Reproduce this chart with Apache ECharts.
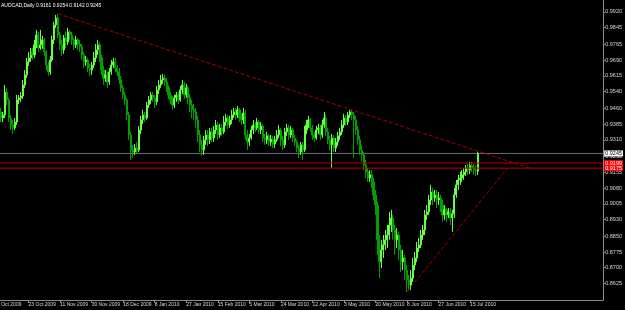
<!DOCTYPE html>
<html><head><meta charset="utf-8">
<script src="https://cdn.jsdelivr.net/npm/echarts@6/dist/echarts.min.js"></script>
<style>html,body{margin:0;padding:0;background:#000}#c{width:625px;height:310px}</style>
</head><body><div id="c"></div>
<script>
const symbolName = 'AUDCAD,Daily';
const lastQuote = ['0.9161', '0.9254', '0.9142', '0.9245'];
const dateLabels = ['5 Oct 2009','23 Oct 2009','11 Nov 2009','30 Nov 2009','18 Dec 2009','8 Jan 2010','27 Jan 2010','15 Feb 2010','5 Mar 2010','24 Mar 2010','12 Apr 2010','3 May 2010','20 May 2010','8 Jun 2010','27 Jun 2010','15 Jul 2010'];
const barsPerLabel = 16;
const slotCount = 308;
const firstVisibleSlot = 2;
const priceTicks = [0.9920,0.9845,0.9765,0.9690,0.9615,0.9540,0.9460,0.9385,0.9310,0.9230,0.9155,0.9080,0.9005,0.8930,0.8850,0.8775,0.8700,0.8625,0.8545];
const priceMin = 0.8546, priceMax = 0.9977;

const open = [
.9476,.9453,.9443,.9414,.9429,.9538,.9500,.9414,.9381,.9367,
.9395,.9500,.9510,.9519,.9572,.9620,.9682,.9701,.9729,.9715,
.9763,.9810,.9748,.9763,.9787,.9729,.9667,.9634,.9691,.9787,
.9858,.9891,.9810,.9763,.9739,.9796,.9777,.9825,.9810,.9787,
.9763,.9787,.9767,.9753,.9715,.9682,.9691,.9653,.9643,.9667,
.9701,.9739,.9763,.9701,.9643,.9605,.9620,.9586,.9634,.9667,
.9682,.9653,.9634,.9596,.9558,.9524,.9500,.9429,.9333,.9262,
.9252,.9271,.9262,.9357,.9405,.9429,.9414,.9476,.9500,.9524,
.9510,.9491,.9548,.9572,.9596,.9605,.9586,.9558,.9524,.9500,
.9476,.9510,.9524,.9500,.9548,.9572,.9524,.9558,.9510,.9476,
.9453,.9443,.9405,.9333,.9286,.9262,.9310,.9333,.9310,.9348,
.9319,.9357,.9381,.9333,.9367,.9348,.9395,.9414,.9381,.9405,
.9429,.9443,.9429,.9453,.9414,.9405,.9438,.9333,.9300,.9319,
.9357,.9381,.9367,.9395,.9357,.9376,.9319,.9310,.9329,.9300,
.9314,.9290,.9310,.9333,.9357,.9310,.9286,.9348,.9367,.9333,
.9357,.9319,.9300,.9271,.9252,.9286,.9262,.9357,.9381,.9405,
.9367,.9333,.9319,.9357,.9367,.9333,.9381,.9414,.9348,.9310,
.9286,.9319,.9271,.9300,.9329,.9348,.9381,.9414,.9395,.9429,
.9443,.9429,.9405,.9357,.9310,.9262,.9238,.9190,.9157,.9128,
.9143,.9109,.9047,.8999,.8833,.8728,.8785,.8809,.8833,.8856,
.8904,.8937,.8880,.8833,.8856,.8785,.8728,.8747,.8689,.8642,
.8618,.8651,.8713,.8747,.8794,.8809,.8856,.8880,.8952,.8966,
.9023,.9061,.9033,.9047,.9023,.9033,.8999,.8952,.8976,.8952,
.8966,.8937,.8957,.9047,.9095,.9119,.9128,.9143,.9157,.9176,
.9166,.9186,.9176,.9166,.9161];

const close = [
.9453,.9443,.9414,.9429,.9538,.9500,.9414,.9381,.9367,.9395,
.9500,.9510,.9519,.9572,.9620,.9682,.9701,.9729,.9715,.9763,
.9810,.9748,.9763,.9787,.9729,.9667,.9634,.9691,.9787,.9858,
.9891,.9810,.9763,.9739,.9796,.9777,.9825,.9810,.9787,.9763,
.9787,.9767,.9753,.9715,.9682,.9691,.9653,.9643,.9667,.9701,
.9739,.9763,.9701,.9643,.9605,.9620,.9586,.9634,.9667,.9682,
.9653,.9634,.9596,.9558,.9524,.9500,.9429,.9333,.9262,.9252,
.9271,.9262,.9357,.9405,.9429,.9414,.9476,.9500,.9524,.9510,
.9491,.9548,.9572,.9596,.9605,.9586,.9558,.9524,.9500,.9476,
.9510,.9524,.9500,.9548,.9572,.9524,.9558,.9510,.9476,.9453,
.9443,.9405,.9333,.9286,.9262,.9310,.9333,.9310,.9348,.9319,
.9357,.9381,.9333,.9367,.9348,.9395,.9414,.9381,.9405,.9429,
.9443,.9429,.9453,.9414,.9405,.9438,.9333,.9300,.9319,.9357,
.9381,.9367,.9395,.9357,.9376,.9319,.9310,.9329,.9300,.9314,
.9290,.9310,.9333,.9357,.9310,.9286,.9348,.9367,.9333,.9357,
.9319,.9300,.9271,.9252,.9286,.9262,.9357,.9381,.9405,.9367,
.9333,.9319,.9357,.9367,.9333,.9381,.9414,.9348,.9310,.9286,
.9319,.9271,.9300,.9329,.9348,.9381,.9414,.9395,.9429,.9443,
.9429,.9405,.9357,.9310,.9262,.9238,.9190,.9157,.9128,.9143,
.9109,.9047,.8999,.8833,.8728,.8785,.8809,.8833,.8856,.8904,
.8937,.8880,.8833,.8856,.8785,.8728,.8747,.8689,.8642,.8618,
.8651,.8713,.8747,.8794,.8809,.8856,.8880,.8952,.8966,.9023,
.9061,.9033,.9047,.9023,.9033,.8999,.8952,.8976,.8952,.8966,
.8937,.8957,.9047,.9095,.9119,.9128,.9143,.9157,.9176,.9166,
.9186,.9176,.9166,.9161,.9245];

const high = [
.9500,.9476,.9462,.9443,.9572,.9558,.9510,.9429,.9405,.9414,
.9524,.9524,.9538,.9596,.9643,.9701,.9729,.9748,.9748,.9787,
.9834,.9825,.9834,.9806,.9796,.9739,.9682,.9710,.9806,.9872,
.9906,.9911,.9825,.9787,.9810,.9825,.9844,.9834,.9825,.9796,
.9806,.9796,.9787,.9767,.9729,.9710,.9701,.9672,.9682,.9729,
.9767,.9787,.9777,.9715,.9663,.9643,.9634,.9653,.9691,.9701,
.9701,.9667,.9653,.9615,.9572,.9538,.9510,.9443,.9348,.9286,
.9290,.9300,.9376,.9424,.9453,.9443,.9491,.9519,.9538,.9538,
.9524,.9567,.9596,.9620,.9624,.9620,.9605,.9572,.9538,.9519,
.9524,.9538,.9538,.9567,.9596,.9586,.9577,.9567,.9529,.9500,
.9481,.9462,.9424,.9357,.9310,.9329,.9357,.9357,.9367,.9367,
.9376,.9405,.9395,.9386,.9386,.9424,.9434,.9429,.9424,.9453,
.9462,.9462,.9472,.9462,.9434,.9462,.9453,.9357,.9338,.9376,
.9405,.9395,.9414,.9405,.9395,.9386,.9338,.9348,.9338,.9333,
.9329,.9329,.9357,.9381,.9367,.9329,.9367,.9386,.9381,.9376,
.9367,.9333,.9310,.9286,.9300,.9300,.9376,.9405,.9424,.9414,
.9381,.9348,.9376,.9386,.9381,.9405,.9443,.9429,.9367,.9329,
.9338,.9333,.9319,.9348,.9367,.9405,.9434,.9429,.9443,.9453,
.9453,.9443,.9424,.9376,.9329,.9286,.9252,.9214,.9176,.9166,
.9166,.9128,.9071,.9014,.8856,.8833,.8856,.8880,.8904,.8966,
.8976,.8952,.8904,.8890,.8871,.8809,.8785,.8761,.8713,.8666,
.8689,.8747,.8775,.8823,.8842,.8880,.8904,.8976,.8999,.9047,
.9095,.9081,.9071,.9071,.9061,.9047,.9023,.8999,.8985,.8985,
.8985,.8976,.9081,.9119,.9143,.9157,.9166,.9176,.9190,.9195,
.9205,.9205,.9195,.9190,.9254];

const low = [
.9429,.9414,.9395,.9395,.9414,.9476,.9395,.9357,.9338,.9357,
.9381,.9481,.9491,.9505,.9558,.9605,.9663,.9682,.9691,.9701,
.9748,.9729,.9739,.9744,.9710,.9643,.9615,.9620,.9682,.9767,
.9844,.9796,.9739,.9710,.9720,.9748,.9763,.9787,.9763,.9739,
.9748,.9739,.9729,.9691,.9653,.9663,.9634,.9615,.9620,.9653,
.9682,.9715,.9682,.9620,.9572,.9586,.9558,.9572,.9620,.9653,
.9634,.9615,.9577,.9538,.9505,.9476,.9405,.9310,.9214,.9224,
.9238,.9243,.9252,.9338,.9386,.9395,.9405,.9462,.9481,.9491,
.9462,.9476,.9529,.9558,.9577,.9567,.9538,.9505,.9481,.9453,
.9462,.9491,.9481,.9491,.9529,.9505,.9510,.9481,.9443,.9414,
.9405,.9367,.9300,.9252,.9233,.9238,.9286,.9281,.9290,.9300,
.9300,.9338,.9310,.9319,.9329,.9338,.9376,.9362,.9367,.9386,
.9414,.9405,.9414,.9395,.9381,.9386,.9310,.9262,.9281,.9310,
.9338,.9348,.9357,.9338,.9338,.9300,.9286,.9290,.9281,.9281,
.9271,.9271,.9300,.9319,.9281,.9262,.9271,.9329,.9310,.9319,
.9300,.9281,.9252,.9224,.9238,.9214,.9252,.9338,.9367,.9348,
.9310,.9300,.9310,.9338,.9310,.9319,.9367,.9329,.9290,.9262,
.9176,.9252,.9252,.9281,.9310,.9333,.9367,.9376,.9381,.9414,
.9405,.9224,.9333,.9286,.9238,.9205,.9166,.9128,.9109,.9109,
.9081,.9023,.8952,.8761,.8651,.8699,.8747,.8785,.8794,.8833,
.8871,.8833,.8761,.8794,.8737,.8680,.8689,.8642,.8585,.8594,
.8594,.8632,.8689,.8728,.8775,.8794,.8833,.8856,.8928,.8952,
.8999,.8999,.9014,.8985,.8999,.8966,.8918,.8928,.8918,.8937,
.8904,.8871,.8937,.9033,.9071,.9095,.9109,.9119,.9138,.9143,
.9147,.9157,.9143,.9138,.9142];

const bidPrice = 0.9245;
const levelLines = [0.9199, 0.9175];
const trendDown = [[31, 0.9911], [270, 0.9176]];
const trendUp = [[208, 0.8585], [259, 0.9176]];

const FONT = '"Liberation Sans",Arial,sans-serif';
const BULL = '#66ff44', BEAR = '#00a000';
const slots = Array.from({length: slotCount}, (_, i) => String(i));
const candles = close.map((c, i) => {
  const col = c >= open[i] ? BULL : BEAR;
  return {value: [open[i], c, low[i], high[i]],
    itemStyle: {color: col, color0: col, borderColor: col, borderColor0: col, borderColorDoji: col}};
});
const isLabel = (i) => i >= firstVisibleSlot && i % barsPerLabel === 0 && i / barsPerLabel < dateLabels.length;

function hLine(v, lineColor, fg, bg, z) {
  return {
    type: 'line', xAxisIndex: 1, silent: true, symbol: 'none', z: z,
    data: [[firstVisibleSlot - 0.5, v], [slotCount - 0.5, v]],
    lineStyle: {color: lineColor, width: 1, type: 'solid'},
    endLabel: {show: true, distance: 1, formatter: v.toFixed(4), color: fg, backgroundColor: bg,
      padding: [0, 1], fontSize: 5.5, lineHeight: 6, fontFamily: FONT}
  };
}

const chart = echarts.init(document.getElementById('c'), null, {renderer: 'canvas'});
chart.setOption({
  backgroundColor: '#000000',
  animation: false,
  title: {text: symbolName + ' ' + lastQuote.join(' '), left: 1, top: 3, padding: 0,
    textStyle: {color: '#ffffff', fontSize: 5, fontWeight: 'normal', fontFamily: FONT}},
  graphic: [{
    type: 'text', x: -3, y: 302, silent: true, z: 10,
    style: {text: dateLabels[0], fill: '#d8d8d8', fontSize: 5, fontFamily: FONT, verticalAlign: 'top', align: 'left'}
  }],
  grid: {left: 0, right: 19, top: 0, bottom: 10, containLabel: false},
  xAxis: [{
    type: 'category', data: slots, boundaryGap: true, min: firstVisibleSlot,
    axisLine: {show: true, lineStyle: {color: '#8c8c8c', width: 1}},
    axisTick: {show: true, alignWithLabel: true, interval: (i) => isLabel(i), length: 3, lineStyle: {color: '#8c8c8c'}},
    axisLabel: {interval: (i) => isLabel(i), formatter: (v) => dateLabels[parseInt(v, 10) / barsPerLabel],
      align: 'left', margin: 2, color: '#d8d8d8', fontSize: 5, fontFamily: FONT},
    splitLine: {show: false}
  }, {type: 'value', min: firstVisibleSlot - 0.5, max: slotCount - 0.5, show: false}],
  yAxis: {
    type: 'value', position: 'right', min: priceMin, max: priceMax, scale: true,
    axisLine: {show: true, lineStyle: {color: '#8c8c8c', width: 1}},
    axisTick: {show: true, customValues: priceTicks, length: 2, lineStyle: {color: '#8c8c8c'}},
    axisLabel: {customValues: priceTicks, formatter: (v) => v.toFixed(4), margin: 2,
      color: '#d8d8d8', fontSize: 5.5, fontFamily: FONT},
    splitLine: {show: false}
  },
  series: [
    hLine(bidPrice, '#6c6c7c', '#000000', '#ffffff', 1),
    hLine(levelLines[0], '#c00000', '#ffffff', '#ff0000', 5),
    hLine(levelLines[1], '#c00000', '#ffffff', '#ff0000', 6),
    {
      type: 'candlestick', data: candles, barWidth: '80%', z: 3, clip: true,
      itemStyle: {color: BULL, color0: BEAR, borderColor: BULL, borderColor0: BEAR, borderWidth: 1}
    }, {
      type: 'line', xAxisIndex: 1, data: trendDown, symbol: 'none', silent: true, z: 4,
      lineStyle: {color: '#a00000', width: 1, type: [4, 2]}
    }, {
      type: 'line', xAxisIndex: 1, data: trendUp, symbol: 'none', silent: true, z: 4,
      lineStyle: {color: '#a00000', width: 1, type: [4, 2]}
    }
  ]
});
</script>
</body></html>
